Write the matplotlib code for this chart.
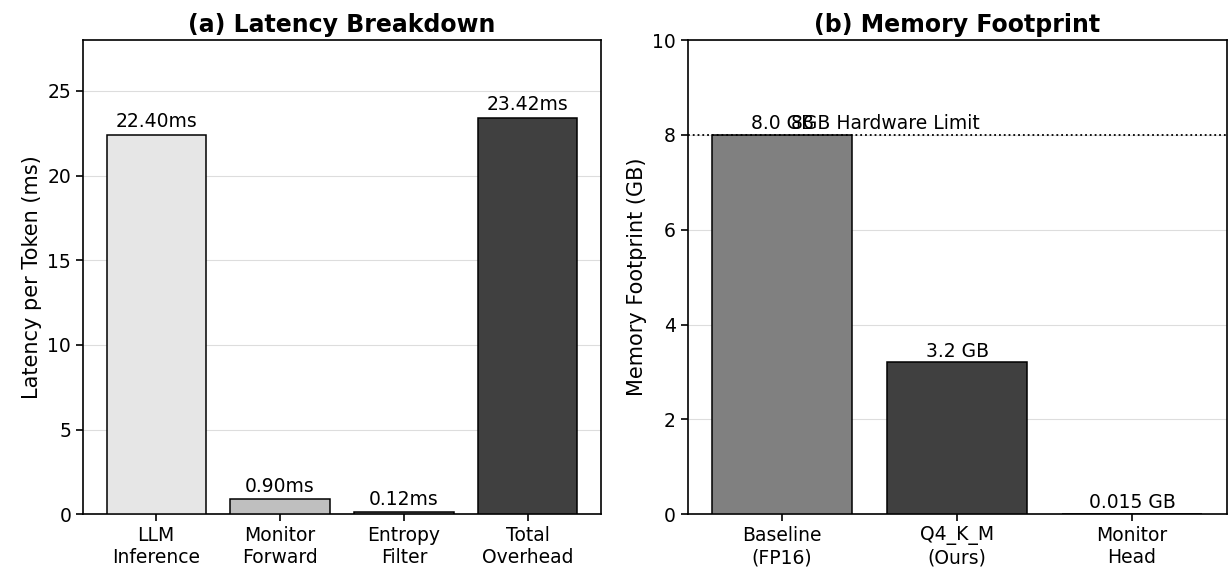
import numpy as np
import matplotlib.pyplot as plt

# Latency breakdown data
lat_labels = ["LLM\nInference", "Monitor\nForward", "Entropy\nFilter", "Total\nOverhead"]
lat_values = [22.40, 0.90, 0.12, 23.42]
lat_colors = ["#e6e6e6", "#bfbfbf", "#808080", "#404040"]

# Memory footprint data
mem_labels = ["Baseline\n(FP16)", "Q4_K_M\n(Ours)", "Monitor\nHead"]
mem_values = [8.0, 3.2, 0.015]
mem_text = ["8.0 GB", "3.2 GB", "0.015 GB"]
mem_colors = ["#808080", "#404040", "#bfbfbf"]
hw_limit = 8

plt.rcParams["font.size"] = 13.5

fig = plt.figure(figsize=(12.29, 5.72), dpi=100)
axL = fig.add_axes([0.0675, 0.101, 0.4215, 0.829])
axR = fig.add_axes([0.5595, 0.101, 0.4385, 0.829])

# (a) latency
x = np.arange(len(lat_labels))
axL.bar(x, lat_values, color=lat_colors, edgecolor="black", linewidth=1.1, zorder=3)
for xi, v in zip(x, lat_values):
    axL.text(xi, v + 0.2, f"{v:.2f}ms", ha="center", va="bottom", fontsize=13.5)
axL.set_xticks(x)
axL.set_xticklabels(lat_labels)
axL.set_ylim(0, 28)
axL.set_ylabel("Latency per Token (ms)", fontsize=15)
axL.set_title("(a) Latency Breakdown", fontsize=17, fontweight="bold")
axL.yaxis.grid(True, color="#dddddd", linewidth=0.8, zorder=0)
axL.set_axisbelow(True)

# (b) memory
x2 = np.arange(len(mem_labels))
axR.bar(x2, mem_values, color=mem_colors, edgecolor="black", linewidth=1.1, zorder=3)
for xi, v, t in zip(x2, mem_values, mem_text):
    axR.text(xi, v + 0.03, t, ha="center", va="bottom", fontsize=13.5)
axR.axhline(hw_limit, color="black", linestyle=":", linewidth=1.3, zorder=4)
axR.text(0.05, hw_limit + 0.03, "8GB Hardware Limit", ha="left", va="bottom", fontsize=13.5)
axR.set_xticks(x2)
axR.set_xticklabels(mem_labels)
axR.set_ylim(0, 10)
axR.set_ylabel("Memory Footprint (GB)", fontsize=15)
axR.set_title("(b) Memory Footprint", fontsize=17, fontweight="bold")
axR.yaxis.grid(True, color="#dddddd", linewidth=0.8, zorder=0)
axR.set_axisbelow(True)

for ax in (axL, axR):
    for s in ax.spines.values():
        s.set_linewidth(1.2)
    ax.tick_params(length=5, width=1.2)

fig.savefig("out.png", dpi=100)
